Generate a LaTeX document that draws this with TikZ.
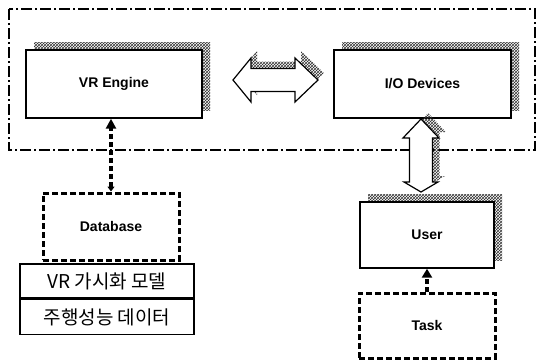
\documentclass[tikz,border=0pt]{standalone}
\usepackage{fontspec}
\setmainfont{Liberation Sans}
\newfontfamily\krfont{Noto Sans CJK KR}
\usetikzlibrary{arrows.meta,patterns,shadows}

\tikzset{
  hatch/.style={pattern=crosshatch, pattern color=black!80},
  boxshadow/.style={general shadow={shadow xshift=8pt, shadow yshift=8pt, hatch}},
  solidbox/.style={draw, line width=1.4pt, fill=white, boxshadow,
    font=\fontsize{14}{16}\selectfont\bfseries, inner sep=0pt},
  dashbox/.style={draw, line width=3pt, dash pattern=on 6pt off 3pt, fill=white,
    font=\fontsize{14}{16}\selectfont\bfseries, inner sep=0pt},
  cell/.style={draw, line width=1.4pt, fill=white, inner sep=0pt,
    font=\krfont\fontsize{19}{21}\selectfont},
  frame/.style={line width=1.2pt, dash pattern=on 11pt off 3pt on 2pt off 3pt},
  flowlink/.style={line width=3.5pt, dash pattern=on 5pt off 3pt},
  blockarrow/.style={draw, line width=1.2pt, fill=white, line join=miter},
}

\begin{document}
\begin{tikzpicture}[x=1pt, y=-1pt]
\useasboundingbox (0,0) rectangle (536,360);

% system frame
\draw[frame] (9,9) rectangle (535,150);

% components
\node[solidbox, minimum width=176pt, minimum height=68pt] (vr) at (114,84) {VR Engine};
\node[solidbox, minimum width=177pt, minimum height=68pt] (io) at (422.5,84) {I/O Devices};
\node[solidbox, minimum width=134pt, minimum height=66pt] (user) at (427,235) {User};
\node[dashbox, minimum width=136pt, minimum height=65pt] (task) at (427,325.5) {Task};
\node[dashbox, minimum width=136pt, minimum height=67pt] (db) at (111,226.5) {Database};

% database contents
\node[cell, minimum width=174pt, minimum height=34pt] (row1) at (107,281) {VR 가시화 모델};
\node[cell, minimum width=174pt, minimum height=35pt, anchor=north] (row2) at (row1.south) {주행성능 데이터};

% two-way block arrow between engine and devices
\coordinate (hl) at (233,80);
\draw[blockarrow, general shadow={shadow xshift=6pt, shadow yshift=7pt, hatch}]
  (hl) -- ++(18,-22) -- ++(0,10.5) -- ++(44,0) -- ++(0,-10.5) -- ++(23,22)
  -- ++(-23,22) -- ++(0,-10.5) -- ++(-44,0) -- ++(0,10.5) -- cycle;

% two-way block arrow between devices and user
\coordinate (vt) at (421,119);
\draw[blockarrow, general shadow={shadow xshift=7pt, shadow yshift=6pt, hatch}]
  (vt) -- ++(18,19) -- ++(-6.5,0) -- ++(0,44) -- ++(5.5,0) -- ++(-17,10)
  -- ++(-17,-10) -- ++(5.5,0) -- ++(0,-44) -- ++(-6.5,0) -- cycle;

% data and task links
\draw[flowlink, {Triangle[width=7pt,length=5pt]}-{Triangle[width=10pt,length=10pt]}]
  (db.north) -- (db.north |- vr.south);
\draw[flowlink, -{Triangle[width=10pt,length=9pt]}]
  (task.north) -- (user.south);
\end{tikzpicture}
\end{document}
